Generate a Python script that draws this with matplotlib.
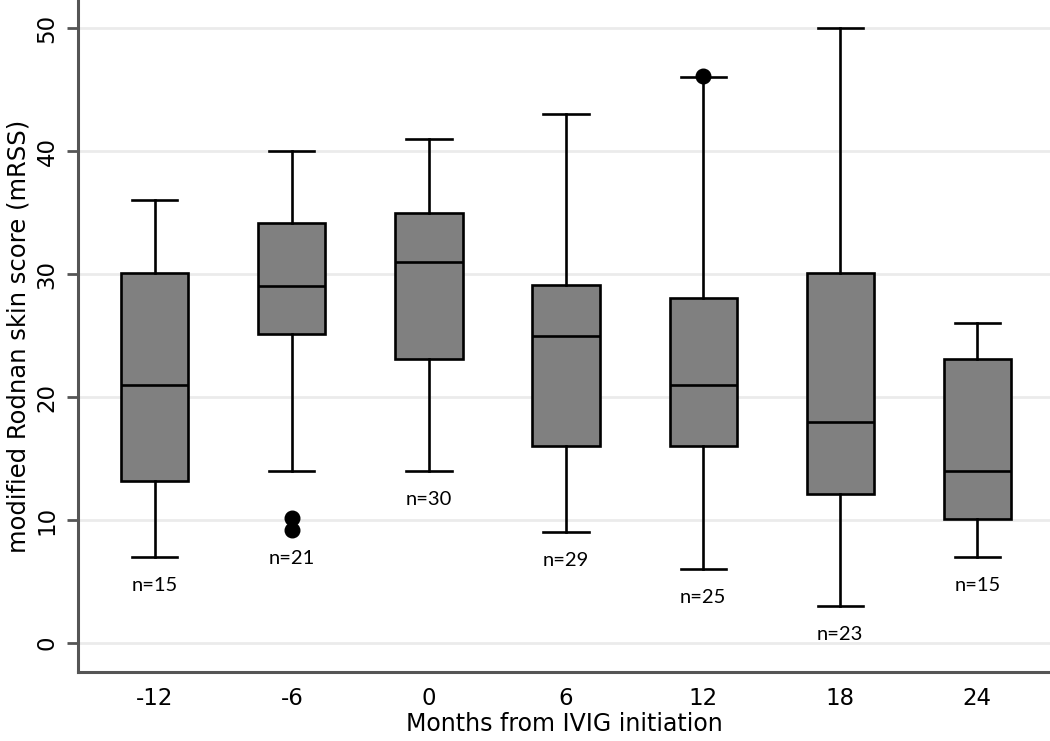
import matplotlib
matplotlib.use("Agg")
import matplotlib.pyplot as plt

plt.rcParams['font.family'] = ['DejaVu Sans']

months = ["-12", "-6", "0", "6", "12", "18", "24"]
whislo = [7, 14, 14, 9, 6, 3, 7]
q1 = [13.2, 25.1, 23.1, 16.0, 16.0, 12.1, 10.1]
med = [21, 29, 31, 25, 21, 18, 14]
q3 = [30.1, 34.2, 35.0, 29.1, 28.1, 30.1, 23.1]
whishi = [36, 40, 41, 43, 46, 50, 26]
fliers = [[], [9.2, 10.2], [], [], [46.1], [], []]
n_counts = [15, 21, 30, 29, 25, 23, 15]

stats = []
for i in range(len(months)):
    stats.append(dict(whislo=whislo[i], q1=q1[i], med=med[i], q3=q3[i],
                      whishi=whishi[i], fliers=fliers[i], label=months[i]))

fig = plt.figure(figsize=(10.5, 7.41), dpi=100)
ax = fig.add_axes([0.0743, 0.0931, 0.9257, 0.9069])

pos = list(range(len(months)))
ax.bxp(stats, positions=pos, widths=0.49, patch_artist=True,
       boxprops=dict(facecolor='#808080', edgecolor='black', linewidth=1.9),
       medianprops=dict(color='black', linewidth=1.9),
       whiskerprops=dict(color='black', linewidth=1.9),
       capprops=dict(color='black', linewidth=1.9),
       flierprops=dict(marker='o', markerfacecolor='black', markeredgecolor='black', markersize=10.5),
       capwidths=0.33, zorder=3)

for i in range(len(months)):
    low = min([whislo[i]] + fliers[i])
    ax.text(pos[i], low - 2.3, f"n={n_counts[i]}", ha='center', va='center',
            fontsize=14.5, color='black', zorder=4, family=['Lato', 'DejaVu Sans'])

ax.set_xlim(-0.56, 6.53)
ax.set_ylim(-2.36, 52.3)
ax.set_yticks([0, 10, 20, 30, 40, 50])
ax.set_yticklabels(["0", "10", "20", "30", "40", "50"], rotation=90, va='center')
ax.set_xticks(pos)
ax.set_xticklabels(months)
ax.yaxis.grid(True, color='#ebebeb', linewidth=2, zorder=0)
ax.set_axisbelow(True)

for s in ['top', 'right']:
    ax.spines[s].set_visible(False)
for s in ['left', 'bottom']:
    ax.spines[s].set_color('#555555')
    ax.spines[s].set_linewidth(2.2)

ax.tick_params(axis='y', length=8, width=2, color='#555555', labelsize=16.5, pad=6)
ax.tick_params(axis='x', length=0, labelsize=16.5, pad=11)
ax.set_xlabel("Months from IVIG initiation", fontsize=17, labelpad=1)
ax.set_ylabel("modified Rodnan skin score (mRSS)", fontsize=17.5, labelpad=4)

fig.savefig("out.png", dpi=100)
